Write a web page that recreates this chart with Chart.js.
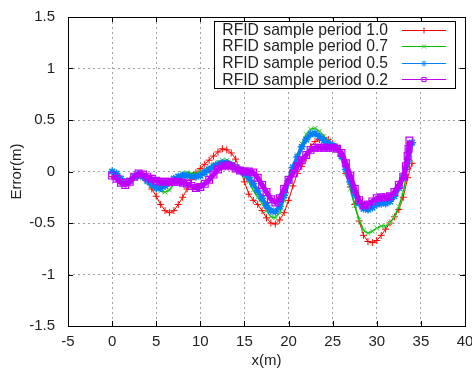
<!DOCTYPE html>
<html>
<head>
<meta charset="utf-8">
<script src="https://cdn.jsdelivr.net/npm/chart.js@4/dist/chart.umd.min.js"></script>
<style>
  html, body { margin: 0; padding: 0; background: #fff; }
</style>
</head>
<body>
<canvas id="chart" width="472" height="370"></canvas>
<script>
// axis ticks
const xTicks = [-5, 0, 5, 10, 15, 20, 25, 30, 35, 40];
const yTicks = [-1.5, -1, -0.5, 0, 0.5, 1, 1.5];

const seriesLabels = [
  'RFID sample period 1.0',
  'RFID sample period 0.7',
  'RFID sample period 0.5',
  'RFID sample period 0.2'
];

// sample period 1.0 (red)
const xRed = [0, 0.5, 1, 1.5, 2, 2.5, 3, 3.5, 4, 4.5, 5, 5.5, 6, 6.5, 7, 7.5, 8, 8.5, 9, 9.5,
  10, 10.5, 11, 11.5, 12, 12.5, 13, 13.5, 14, 14.5, 15, 15.5, 16, 16.5, 17, 17.5, 18, 18.5, 19, 19.5,
  20, 20.5, 21, 21.5, 22, 22.5, 23, 23.5, 24, 24.5, 25, 25.5, 26, 26.5, 27, 27.5, 28, 28.5, 29, 29.5,
  30, 30.5, 31, 31.5, 32, 32.5, 33, 33.5, 34];
const yRed = [-0.05, -0.06, -0.10, -0.12, -0.10, -0.06, -0.04, -0.06, -0.10, -0.17, -0.24, -0.32, -0.38, -0.40, -0.38, -0.32, -0.25, -0.17, -0.08, -0.01,
  0.03, 0.07, 0.11, 0.15, 0.19, 0.22, 0.21, 0.18, 0.12, 0.02, -0.10, -0.22, -0.28, -0.32, -0.38, -0.45, -0.50, -0.51, -0.47, -0.40,
  -0.28, -0.14, -0.02, 0.05, 0.13, 0.24, 0.29, 0.31, 0.33, 0.31, 0.27, 0.24, 0.15, -0.02, -0.15, -0.32, -0.48, -0.62, -0.68, -0.69,
  -0.67, -0.62, -0.56, -0.50, -0.44, -0.37, -0.25, -0.06, 0.08];

// sample period 0.7 (green)
const xGreen = [0, 0.5, 1, 1.5, 2, 2.5, 3, 3.5, 4, 4.5, 5, 5.5, 6, 6.5, 7, 7.5, 8, 8.5, 9, 9.5,
  10, 10.5, 11, 11.5, 12, 12.5, 13, 13.5, 14, 14.5, 15, 15.5, 16, 16.5, 17, 17.5, 18, 18.5, 19, 19.5,
  20, 20.5, 21, 21.5, 22, 22.5, 23, 23.5, 24, 24.5, 25, 25.5, 26, 26.5, 27, 27.5, 28, 28.5, 29, 29.5,
  30, 30.5, 31, 31.5, 32, 32.5, 33, 33.5, 33.8];
const yGreen = [0.00, -0.02, -0.06, -0.10, -0.09, -0.06, -0.04, -0.06, -0.10, -0.14, -0.17, -0.19, -0.20, -0.18, -0.12, -0.05, -0.02, -0.01, -0.02, -0.02,
  0.00, 0.02, 0.04, 0.07, 0.09, 0.11, 0.11, 0.09, 0.06, 0.01, -0.04, -0.10, -0.18, -0.25, -0.31, -0.38, -0.44, -0.45, -0.40, -0.28,
  -0.12, 0.03, 0.16, 0.27, 0.36, 0.41, 0.42, 0.39, 0.34, 0.30, 0.27, 0.23, 0.13, -0.02, -0.17, -0.33, -0.47, -0.57, -0.60, -0.58,
  -0.55, -0.53, -0.53, -0.50, -0.44, -0.34, -0.20, 0.03, 0.12];

// sample period 0.5 (blue)
const xBlue = [0, 0.5, 1, 1.5, 2, 2.5, 3, 3.5, 4, 4.5, 5, 5.5, 6, 6.5, 7, 7.5, 8, 8.5, 9, 9.5,
  10, 10.5, 11, 11.5, 12, 12.5, 13, 13.5, 14, 14.5, 15, 15.5, 16, 16.5, 17, 17.5, 18, 18.5, 19, 19.5,
  20, 20.5, 21, 21.5, 22, 22.5, 23, 23.5, 24, 24.5, 25, 25.5, 26, 26.5, 27, 27.5, 28, 28.5, 29, 29.5,
  30, 30.5, 31, 31.5, 32, 32.5, 33, 33.5, 34];
const yBlue = [0.00, -0.02, -0.07, -0.11, -0.09, -0.05, -0.03, -0.05, -0.09, -0.13, -0.16, -0.16, -0.14, -0.11, -0.07, -0.05, -0.04, -0.04, -0.05, -0.05,
  -0.04, -0.01, 0.02, 0.05, 0.07, 0.08, 0.08, 0.06, 0.04, 0.01, -0.02, -0.06, -0.12, -0.19, -0.26, -0.33, -0.38, -0.39, -0.34, -0.23,
  -0.09, 0.04, 0.14, 0.24, 0.31, 0.36, 0.37, 0.34, 0.30, 0.27, 0.25, 0.23, 0.15, 0.02, -0.10, -0.22, -0.31, -0.36, -0.37, -0.35,
  -0.32, -0.31, -0.31, -0.29, -0.24, -0.16, -0.06, 0.10, 0.28];

// sample period 0.2 (magenta)
const xMagenta = [0, 0.5, 1, 1.5, 2, 2.5, 3, 3.5, 4, 4.5, 5, 5.5, 6, 6.5, 7, 7.5, 8, 8.5, 9, 9.5,
  10, 10.5, 11, 11.5, 12, 12.5, 13, 13.5, 14, 14.5, 15, 15.5, 16, 16.5, 17, 17.5, 18, 18.5, 19, 19.5,
  20, 20.5, 21, 21.5, 22, 22.5, 23, 23.5, 24, 24.5, 25, 25.5, 26, 26.5, 27, 27.5, 28, 28.5, 29, 29.5,
  30, 30.5, 31, 31.5, 32, 32.5, 33, 33.3, 33.5, 33.6, 33.7];
const yMagenta = [-0.04, -0.07, -0.11, -0.13, -0.10, -0.05, -0.02, -0.03, -0.05, -0.07, -0.09, -0.10, -0.10, -0.10, -0.10, -0.10, -0.11, -0.12, -0.14, -0.16,
  -0.15, -0.12, -0.08, -0.03, 0.02, 0.05, 0.06, 0.05, 0.03, 0.01, 0.00, 0.00, -0.01, -0.06, -0.13, -0.20, -0.27, -0.30, -0.26, -0.17,
  -0.08, -0.02, 0.05, 0.11, 0.16, 0.21, 0.23, 0.23, 0.23, 0.23, 0.23, 0.22, 0.18, 0.08, -0.04, -0.17, -0.28, -0.33, -0.32, -0.29,
  -0.26, -0.25, -0.25, -0.24, -0.20, -0.13, -0.05, 0.05, 0.15, 0.22, 0.30];

const toPoints = (xs, ys) => xs.map((x, i) => ({ x: x, y: ys[i] }));

const FONT = '"Liberation Sans", Arial, sans-serif';

// gnuplot-like border with inward tick marks on all four sides + boxed key
const framePlugin = {
  id: 'frame',
  afterDraw(chart) {
    const { ctx, chartArea: a, scales } = chart;
    ctx.save();
    ctx.strokeStyle = '#000';
    ctx.lineWidth = 1;
    ctx.beginPath();
    xTicks.forEach(v => {
      const px = Math.round(scales.x.getPixelForValue(v)) + 0.5;
      ctx.moveTo(px, a.bottom); ctx.lineTo(px, a.bottom - 5);
      ctx.moveTo(px, a.top); ctx.lineTo(px, a.top + 5);
    });
    yTicks.forEach(v => {
      const py = Math.round(scales.y.getPixelForValue(v)) + 0.5;
      ctx.moveTo(a.left, py); ctx.lineTo(a.left + 5, py);
      ctx.moveTo(a.right, py); ctx.lineTo(a.right - 5, py);
    });
    ctx.stroke();
    ctx.strokeRect(Math.round(a.left) + 0.5, Math.round(a.top) + 0.5,
      Math.round(a.right - a.left), Math.round(a.bottom - a.top));

    // key
    const box = { l: 214.5, t: 21.5, r: 455.5, b: 88.5 };
    ctx.fillStyle = '#fff';
    ctx.fillRect(box.l, box.t, box.r - box.l, box.b - box.t);
    ctx.strokeStyle = '#000';
    ctx.strokeRect(box.l, box.t, box.r - box.l, box.b - box.t);
    ctx.font = '15.7px ' + FONT;
    ctx.textAlign = 'right';
    ctx.textBaseline = 'middle';
    chart.data.datasets.forEach((ds, i) => {
      const y = 29.5 + i * 16.6;
      ctx.fillStyle = '#222';
      ctx.fillText(ds.label, 388, y + 1);
      ctx.strokeStyle = ds.borderColor;
      ctx.lineWidth = 1;
      ctx.beginPath();
      ctx.moveTo(402, Math.round(y) + 0.5);
      ctx.lineTo(446, Math.round(y) + 0.5);
      ctx.stroke();
      ctx.strokeStyle = ds.pointBorderColor;
      ctx.fillStyle = 'rgba(0,0,0,0)';
      Chart.helpers.drawPoint(ctx, {
        pointStyle: ds.pointStyle, radius: 3, rotation: 0, borderWidth: 1
      }, 424, Math.round(y) + 0.5);
    });
    ctx.restore();
  }
};

new Chart(document.getElementById('chart'), {
  type: 'line',
  data: {
    datasets: [
      {
        label: seriesLabels[0],
        data: toPoints(xRed, yRed),
        borderColor: '#ff0000',
        borderWidth: 1,
        pointStyle: 'cross',
        pointRadius: 3.5,
        pointBorderWidth: 1,
        pointBorderColor: '#ff0000',
        backgroundColor: 'transparent',
        order: 4
      },
      {
        label: seriesLabels[1],
        data: toPoints(xGreen, yGreen),
        borderColor: '#00c000',
        borderWidth: 1.5,
        pointStyle: 'crossRot',
        pointRadius: 3.5,
        pointBorderWidth: 1,
        pointBorderColor: '#40cc40',
        backgroundColor: 'transparent',
        order: 3
      },
      {
        label: seriesLabels[2],
        data: toPoints(xBlue, yBlue),
        borderColor: '#0080ff',
        borderWidth: 4,
        pointStyle: 'star',
        pointRadius: 4,
        pointBorderWidth: 1.5,
        pointBorderColor: '#0080ff',
        backgroundColor: 'transparent',
        order: 2
      },
      {
        label: seriesLabels[3],
        data: toPoints(xMagenta, yMagenta),
        borderColor: '#c000ff',
        borderWidth: 5,
        pointStyle: 'rect',
        pointRadius: 4.8,
        pointBorderWidth: 1.2,
        pointBorderColor: '#c000ff',
        backgroundColor: 'transparent',
        order: 1
      }
    ]
  },
  options: {
    responsive: false,
    animation: false,
    devicePixelRatio: 1,
    layout: { padding: { top: 17, right: 7, left: 0, bottom: 0 } },
    plugins: {
      legend: { display: false },
      tooltip: { enabled: false }
    },
    elements: { line: { tension: 0 } },
    scales: {
      x: {
        type: 'linear',
        min: -5,
        max: 40,
        afterBuildTicks: s => { s.ticks = xTicks.map(v => ({ value: v })); },
        afterFit: s => { s.height = 44; s.paddingLeft = 0; s.paddingRight = 0; },
        ticks: {
          color: '#222',
          padding: 7,
          maxRotation: 0,
          font: { family: FONT, size: 15 },
          callback: v => String(v)
        },
        grid: { color: '#a0a0a0', drawTicks: false, lineWidth: 1 },
        border: { display: false, dash: [2, 3] },
        title: {
          display: true,
          text: 'x(m)',
          color: '#222',
          font: { family: FONT, size: 15 },
          padding: { top: 0, bottom: 0 }
        }
      },
      y: {
        type: 'linear',
        min: -1.5,
        max: 1.5,
        afterBuildTicks: s => { s.ticks = yTicks.map(v => ({ value: v })); },
        afterFit: s => { s.width = 68; s.paddingTop = 0; s.paddingBottom = 0; },
        ticks: {
          color: '#222',
          padding: 13,
          font: { family: FONT, size: 15 },
          callback: v => String(v)
        },
        grid: { color: '#a0a0a0', drawTicks: false, lineWidth: 1 },
        border: { display: false, dash: [2, 3] },
        title: {
          display: true,
          text: 'Error(m)',
          color: '#222',
          font: { family: FONT, size: 15 },
          padding: { top: 8, bottom: 0 }
        }
      }
    }
  },
  plugins: [framePlugin]
});
</script>
</body>
</html>
